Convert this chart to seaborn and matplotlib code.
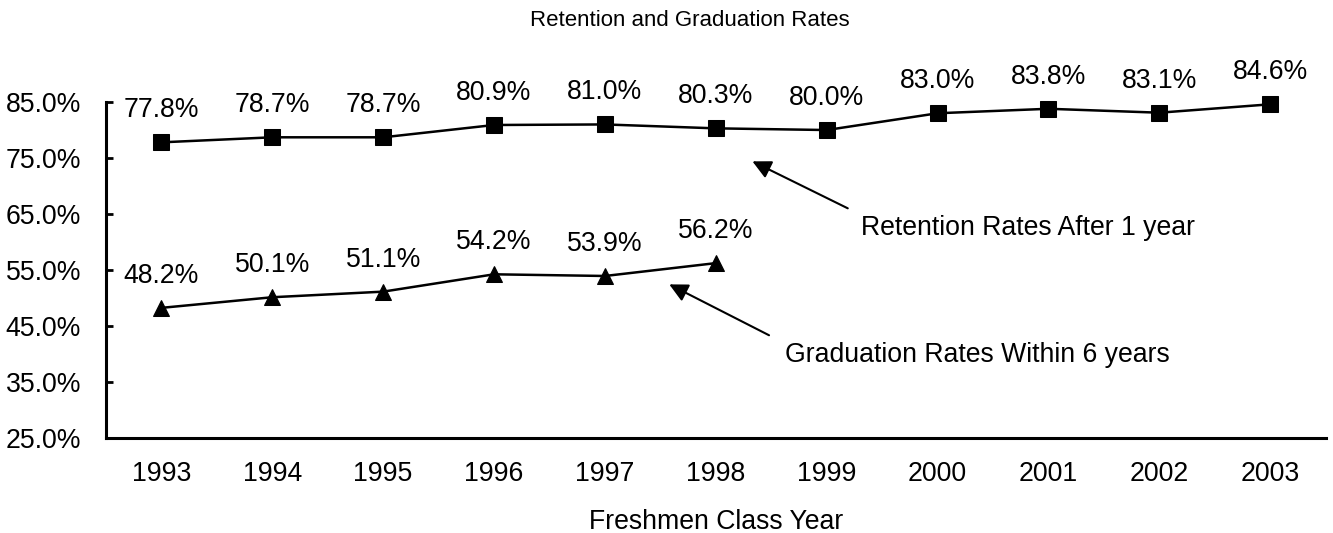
import numpy as np
import pandas as pd
import matplotlib
matplotlib.use("Agg")
import matplotlib.pyplot as plt
import seaborn as sns

years = ["1993", "1994", "1995", "1996", "1997", "1998", "1999", "2000", "2001", "2002", "2003"]
retention = [77.8, 78.7, 78.7, 80.9, 81.0, 80.3, 80.0, 83.0, 83.8, 83.1, 84.6]
graduation = [48.2, 50.1, 51.1, 54.2, 53.9, 56.2, np.nan, np.nan, np.nan, np.nan, np.nan]
y_ticks = [25, 35, 45, 55, 65, 75, 85]
title = "Retention and Graduation Rates"
x_title = "Freshmen Class Year"
ret_name = "Retention Rates After 1 year"
grad_name = "Graduation Rates Within 6 years"

sns.set_style("white")
plt.rcParams["font.family"] = ["Liberation Sans", "DejaVu Sans"]

pos = np.arange(len(years))
df = pd.DataFrame({
    "pos": np.concatenate([pos, pos]),
    "value": retention + graduation,
    "series": [ret_name] * len(years) + [grad_name] * len(years),
})

fig = plt.figure(figsize=(13.33, 5.33), dpi=100)
ax = fig.add_axes([0.0795, 0.179, 0.915, 0.6295])

sns.lineplot(data=df, x="pos", y="value", hue="series", style="series",
             palette={ret_name: "black", grad_name: "black"},
             markers={ret_name: "s", grad_name: "^"}, dashes=False,
             markersize=11, linewidth=1.8, markeredgecolor="black",
             legend=False, ax=ax, clip_on=False)

FS = 19.2
for s, vals in [(ret_name, retention), (grad_name, graduation)]:
    for p, v in zip(pos, vals):
        if np.isnan(v):
            continue
        ax.annotate(f"{v:.1f}%", xy=(p, v), xytext=(0, 23), textcoords="offset points",
                    ha="center", va="center", fontsize=FS, color="black", clip_on=False)

ax.set_xlim(-0.5, 10.5)
ax.set_ylim(25, 85)
ax.set_yticks(y_ticks)
ax.set_yticklabels([f"{t:.1f}%" for t in y_ticks], fontsize=FS)
ax.set_xticks(pos)
ax.set_xticklabels(years, fontsize=FS)
ax.tick_params(axis="y", left=True, direction="in", length=5, width=2, pad=18, colors="black")
ax.tick_params(axis="x", bottom=True, length=0, pad=17, colors="black")
ax.set_xlabel(x_title, fontsize=FS, labelpad=15.5, color="black")
ax.set_ylabel("")

for side in ["top", "right"]:
    ax.spines[side].set_visible(False)
for side in ["left", "bottom"]:
    ax.spines[side].set_linewidth(2.2)
    ax.spines[side].set_color("black")

fig.text(690 / 1333, 1 - 20 / 533, title, ha="center", va="center", fontsize=16, color="black")

arrow = dict(arrowstyle="-|>", color="black", lw=1.5, mutation_scale=28, shrinkA=0, shrinkB=0)
ax.annotate("", xy=(5.33, 74.4), xytext=(6.19, 66.0), arrowprops=arrow, annotation_clip=False)
ax.text(6.31, 62.5, ret_name, ha="left", va="center", fontsize=FS, color="black")
ax.annotate("", xy=(4.58, 52.4), xytext=(5.48, 43.3), arrowprops=arrow, annotation_clip=False)
ax.text(5.62, 39.75, grad_name, ha="left", va="center", fontsize=FS, color="black")

fig.savefig("out.png", dpi=100, facecolor="white")
